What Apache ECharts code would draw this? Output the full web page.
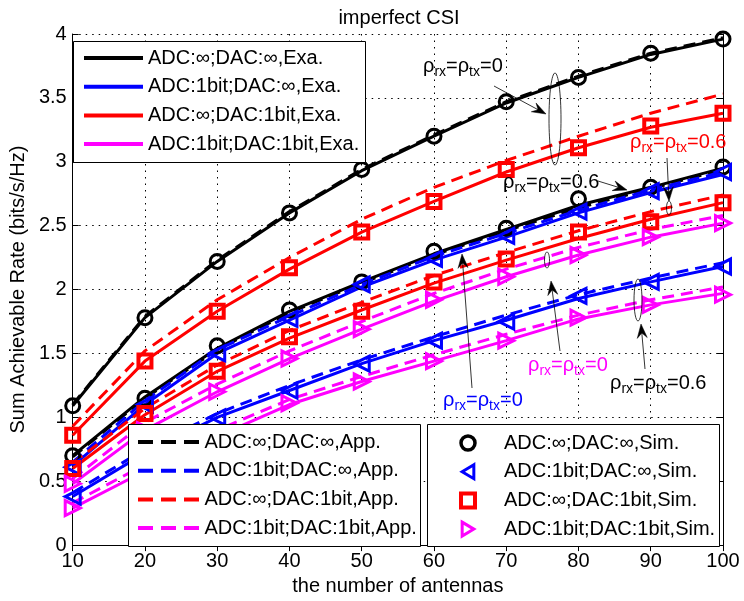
<!DOCTYPE html>
<html><head><meta charset="utf-8">
<script src="https://cdn.jsdelivr.net/npm/echarts@6/dist/echarts.min.js"></script>
<style>html,body{margin:0;padding:0;background:#fff}#c{width:744px;height:601px}</style>
</head><body><div id="c"></div>
<script>
// ---------------- data ----------------
const antennas = [10, 20, 30, 40, 50, 60, 70, 80, 90, 100];

// Exact (solid lines); r0 = rho 0, r6 = rho 0.6
const exaIdealR0 = [1.09, 1.78, 2.22, 2.60, 2.93, 3.20, 3.46, 3.66, 3.84, 3.96];
const exaIdealR6 = [0.70, 1.16, 1.54, 1.83, 2.06, 2.28, 2.47, 2.66, 2.80, 2.95];
const exaAdc1R0  = [0.62, 1.10, 1.50, 1.76, 2.02, 2.23, 2.41, 2.60, 2.76, 2.90];
const exaAdc1R6  = [0.38, 0.72, 1.00, 1.21, 1.42, 1.60, 1.76, 1.93, 2.06, 2.18];
const exaDac1R0  = [0.86, 1.44, 1.83, 2.16, 2.45, 2.69, 2.92, 3.11, 3.27, 3.38];
const exaDac1R6  = [0.60, 1.02, 1.36, 1.62, 1.84, 2.05, 2.23, 2.40, 2.55, 2.68];
const exaBothR0  = [0.48, 0.90, 1.20, 1.46, 1.69, 1.91, 2.10, 2.27, 2.41, 2.52];
const exaBothR6  = [0.29, 0.58, 0.85, 1.10, 1.28, 1.44, 1.60, 1.77, 1.88, 1.97];

// Approximation (dashed lines)
const appIdealR0 = [1.10, 1.79, 2.23, 2.61, 2.94, 3.21, 3.47, 3.67, 3.85, 3.97];
const appIdealR6 = [0.69, 1.15, 1.53, 1.82, 2.05, 2.27, 2.46, 2.64, 2.79, 2.94];
const appAdc1R0  = [0.65, 1.13, 1.53, 1.79, 2.04, 2.26, 2.44, 2.62, 2.78, 2.92];
const appAdc1R6  = [0.41, 0.75, 1.03, 1.25, 1.45, 1.63, 1.80, 1.96, 2.09, 2.21];
const appDac1R0  = [0.93, 1.52, 1.92, 2.25, 2.55, 2.80, 3.01, 3.20, 3.38, 3.53];
const appDac1R6  = [0.64, 1.07, 1.41, 1.68, 1.90, 2.11, 2.29, 2.46, 2.61, 2.74];
const appBothR0  = [0.52, 0.96, 1.26, 1.52, 1.75, 1.97, 2.16, 2.33, 2.47, 2.58];
const appBothR6  = [0.33, 0.63, 0.90, 1.14, 1.32, 1.49, 1.65, 1.80, 1.92, 2.02];

// Simulation (markers)
const simIdealR0 = [1.09, 1.78, 2.22, 2.60, 2.94, 3.20, 3.47, 3.66, 3.85, 3.96];
const simIdealR6 = [0.70, 1.15, 1.56, 1.84, 2.06, 2.30, 2.48, 2.71, 2.80, 2.96];
const simAdc1R0  = [0.61, 1.10, 1.50, 1.77, 2.04, 2.24, 2.42, 2.61, 2.77, 2.92];
const simAdc1R6  = [0.38, 0.72, 1.00, 1.21, 1.42, 1.60, 1.75, 1.95, 2.06, 2.18];
const simDac1R0  = [0.86, 1.44, 1.83, 2.17, 2.45, 2.69, 2.94, 3.11, 3.28, 3.38];
const simDac1R6  = [0.60, 1.03, 1.36, 1.63, 1.83, 2.06, 2.24, 2.45, 2.53, 2.68];
const simBothR0  = [0.48, 0.90, 1.20, 1.46, 1.69, 1.92, 2.10, 2.27, 2.41, 2.52];
const simBothR6  = [0.29, 0.58, 0.84, 1.11, 1.28, 1.44, 1.60, 1.78, 1.88, 1.96];

const namesExa = ['ADC:∞;DAC:∞,Exa.', 'ADC:1bit;DAC:∞,Exa.', 'ADC:∞;DAC:1bit,Exa.', 'ADC:1bit;DAC:1bit,Exa.'];
const namesApp = ['ADC:∞;DAC:∞,App.', 'ADC:1bit;DAC:∞,App.', 'ADC:∞;DAC:1bit,App.', 'ADC:1bit;DAC:1bit,App.'];
const namesSim = ['ADC:∞;DAC:∞,Sim.', 'ADC:1bit;DAC:∞,Sim.', 'ADC:∞;DAC:1bit,Sim.', 'ADC:1bit;DAC:1bit,Sim.'];
const colors = ['#000000', '#0000ff', '#ff0000', '#ff00ff'];

const titleText = 'imperfect CSI';
const xName = 'the number of antennas';
const yName = 'Sum Achievable Rate (bits/s/Hz)';

// ---------------- chart ----------------
const FONT = 'Liberation Sans, Arial, sans-serif';
const chart = echarts.init(document.getElementById('c'), null, {renderer: 'canvas'});
const pts = arr => antennas.map((x, i) => [x, arr[i]]);

const exaGroups = [[exaIdealR0, exaIdealR6], [exaAdc1R0, exaAdc1R6], [exaDac1R0, exaDac1R6], [exaBothR0, exaBothR6]];
const appGroups = [[appIdealR0, appIdealR6], [appAdc1R0, appAdc1R6], [appDac1R0, appDac1R6], [appBothR0, appBothR6]];
const simGroups = [[simIdealR0, simIdealR6], [simAdc1R0, simAdc1R6], [simDac1R0, simDac1R6], [simBothR0, simBothR6]];
const simSymbols = ['circle', 'triangle', 'rect', 'triangle'];
const simRotate = [0, 90, 0, -90];
const simSize = [14, 15, 13, 15];
const simBorder = [3, 3, 4, 3];
// legend-only icon shapes (unrotated paths)
const simLegendIcons = ['circle', 'path://M10,0 L0,6 L10,12 Z', 'path://M0,0 H10 V10 H0 Z', 'path://M0,0 L10,6 L0,12 Z'];
const simLegendBorder = [3.5, 3, 4, 3];

const series = [];
exaGroups.forEach((g, k) => g.forEach(arr => series.push({
  type: 'line', name: namesExa[k], data: pts(arr), symbol: 'none', z: 2,
  lineStyle: {color: colors[k], width: 3, type: 'solid'}, itemStyle: {color: colors[k]}
})));
appGroups.forEach((g, k) => g.forEach(arr => series.push({
  type: 'line', name: namesApp[k], data: pts(arr), symbol: 'none', z: 2,
  lineStyle: {color: colors[k], width: 3, type: [12, 7]}, itemStyle: {color: colors[k]}
})));
simGroups.forEach((g, k) => g.forEach(arr => series.push({
  type: 'scatter', name: namesSim[k], data: pts(arr), z: 2,
  symbol: simSymbols[k], symbolSize: simSize[k], symbolRotate: simRotate[k],
  itemStyle: {color: 'rgba(0,0,0,0)', borderColor: colors[k], borderWidth: simBorder[k], opacity: 1}
})));

const legendText = {fontSize: 20, color: '#000', fontFamily: FONT, lineHeight: 20};
const solidIcon = 'path://M0,0 H59 V4 H0 Z';
const dashIcon = 'path://M0,0 H15 V4 H0 Z M23,0 H38 V4 H23 Z M46,0 H61 V4 H46 Z';

// annotation helpers
function arrowEls(x1, y1, x2, y2) {
  const dx = x2 - x1, dy = y2 - y1, L = Math.hypot(dx, dy), ux = dx / L, uy = dy / L, px = -uy, py = ux;
  const hl = 14, hw = 5, notch = 5;
  const bx = x2 - ux * hl, by = y2 - uy * hl;
  const nx = x2 - ux * (hl - notch), ny = y2 - uy * (hl - notch);
  return [
    {type: 'line', z: 20, shape: {x1, y1, x2: nx, y2: ny}, style: {stroke: '#000', lineWidth: 0.8}},
    {type: 'polygon', z: 20, shape: {points: [[x2, y2], [bx + px * hw, by + py * hw], [nx, ny], [bx - px * hw, by - py * hw]]},
     style: {fill: '#000', stroke: '#000', lineWidth: 0.5}}
  ];
}
function ellipseEl(cx, cy, rx, ry) {
  return {type: 'ellipse', z: 20, shape: {cx, cy, rx, ry}, style: {fill: 'none', stroke: '#000', lineWidth: 0.8}};
}
function rhoText(x, y, val, color) {
  return {
    type: 'text', z: 21, x, y,
    style: {
      text: '{a|ρ}{s|rx}{a|=ρ}{s|tx}{a|=' + val + '}',
      fill: color, font: '20px ' + FONT, verticalAlign: 'top',
      rich: {
        a: {fontSize: 20, fontFamily: FONT, fill: color, lineHeight: 22, verticalAlign: 'middle'},
        s: {fontSize: 14, fontFamily: FONT, fill: color, lineHeight: 14, padding: [12, 0, 0, 0], verticalAlign: 'middle'}
      }
    }
  };
}

const graphics = [
  // legend boxes
  {type: 'rect', z: 3, shape: {x: 73.5, y: 41.5, width: 292, height: 121}, style: {fill: '#fff', stroke: '#000', lineWidth: 1}},
  {type: 'rect', z: 3, shape: {x: 128.5, y: 424.5, width: 292, height: 122}, style: {fill: '#fff', stroke: '#000', lineWidth: 1}},
  {type: 'rect', z: 3, shape: {x: 427.5, y: 424.5, width: 292, height: 122}, style: {fill: '#fff', stroke: '#000', lineWidth: 1}},
  // annotations
  rhoText(423, 55, '0', '#000'),
  ...arrowEls(494, 86, 546, 114),
  ellipseEl(555, 119, 6, 46),
  rhoText(630, 131, '0.6', '#ff0000'),
  ...arrowEls(667, 158, 669, 201),
  ellipseEl(669, 208, 2.5, 7),
  rhoText(503, 171, '0.6', '#000'),
  ...arrowEls(598, 181, 627, 190),
  rhoText(443, 389, '0', '#0000ff'),
  ...arrowEls(472, 388, 462, 254),
  rhoText(528, 354, '0', '#ff00ff'),
  ...arrowEls(560, 351, 551, 281),
  ellipseEl(547, 260, 2.5, 8),
  rhoText(610, 372, '0.6', '#000'),
  ...arrowEls(645, 369, 641, 324),
  ellipseEl(638, 300, 4, 21)
];

const option = {
  animation: false,
  backgroundColor: '#fff',
  title: {text: titleText, left: 394, top: 3, textAlign: 'center',
    textStyle: {fontSize: 20, fontWeight: 'normal', color: '#000', fontFamily: FONT}},
  grid: {left: 66, top: 34, width: 657, height: 513, containLabel: false},
  xAxis: [
    {type: 'value', min: 10, max: 100, interval: 10, name: xName, nameLocation: 'middle', nameGap: 28,
     nameTextStyle: {fontSize: 20, color: '#000', fontFamily: FONT},
     axisLine: {lineStyle: {color: '#000', width: 1}},
     axisTick: {inside: true, length: 6, lineStyle: {color: '#000'}},
     axisLabel: {fontSize: 20, color: '#000', fontFamily: FONT, margin: 6},
     splitLine: {show: true, lineStyle: {color: '#000', width: 1, type: [1.5, 5]}}},
    {type: 'value', position: 'top', min: 10, max: 100, interval: 10,
     axisLine: {lineStyle: {color: '#000', width: 1}},
     axisTick: {inside: true, length: 6, lineStyle: {color: '#000'}},
     axisLabel: {show: false}, splitLine: {show: false}}
  ],
  yAxis: [
    {type: 'value', min: 0, max: 4, interval: 0.5, name: yName, nameLocation: 'middle', nameGap: 42, nameRotate: 90,
     nameTextStyle: {fontSize: 20, color: '#000', fontFamily: FONT},
     axisLine: {show: true, lineStyle: {color: '#000', width: 1}},
     axisTick: {show: true, inside: true, length: 6, lineStyle: {color: '#000'}},
     axisLabel: {fontSize: 20, color: '#000', fontFamily: FONT, margin: 6},
     splitLine: {show: true, lineStyle: {color: '#000', width: 1, type: [1.5, 5]}}},
    {type: 'value', position: 'right', min: 0, max: 4, interval: 0.5,
     axisLine: {show: true, lineStyle: {color: '#000', width: 1}},
     axisTick: {show: true, inside: true, length: 6, lineStyle: {color: '#000'}},
     axisLabel: {show: false}, splitLine: {show: false}}
  ],
  legend: [
    {data: namesExa.map((n, k) => ({name: n, icon: solidIcon, itemStyle: {color: colors[k], borderWidth: 0}})),
     orient: 'vertical', left: 84, top: 48, itemWidth: 59, itemHeight: 4, itemGap: 8.7,
     padding: 0, selectedMode: false, textStyle: legendText, symbolRotate: 0, z: 4},
    {data: namesApp.map((n, k) => ({name: n, icon: dashIcon, itemStyle: {color: colors[k], borderWidth: 0}})),
     orient: 'vertical', left: 138, top: 432, itemWidth: 62, itemHeight: 4, itemGap: 8.7,
     padding: 0, selectedMode: false, textStyle: legendText, symbolRotate: 0, z: 4},
    {data: namesSim.map((n, k) => ({name: n, icon: simLegendIcons[k],
       itemStyle: {borderWidth: simLegendBorder[k], color: 'rgba(0,0,0,0)', borderColor: colors[k]}})),
     orient: 'vertical', left: 459, top: 433, itemWidth: 62, itemHeight: 14, itemGap: 8.7,
     padding: 0, selectedMode: false, textStyle: legendText, symbolRotate: 0, z: 4}
  ],
  graphic: graphics,
  series
};
chart.setOption(option);
</script>
</body></html>
